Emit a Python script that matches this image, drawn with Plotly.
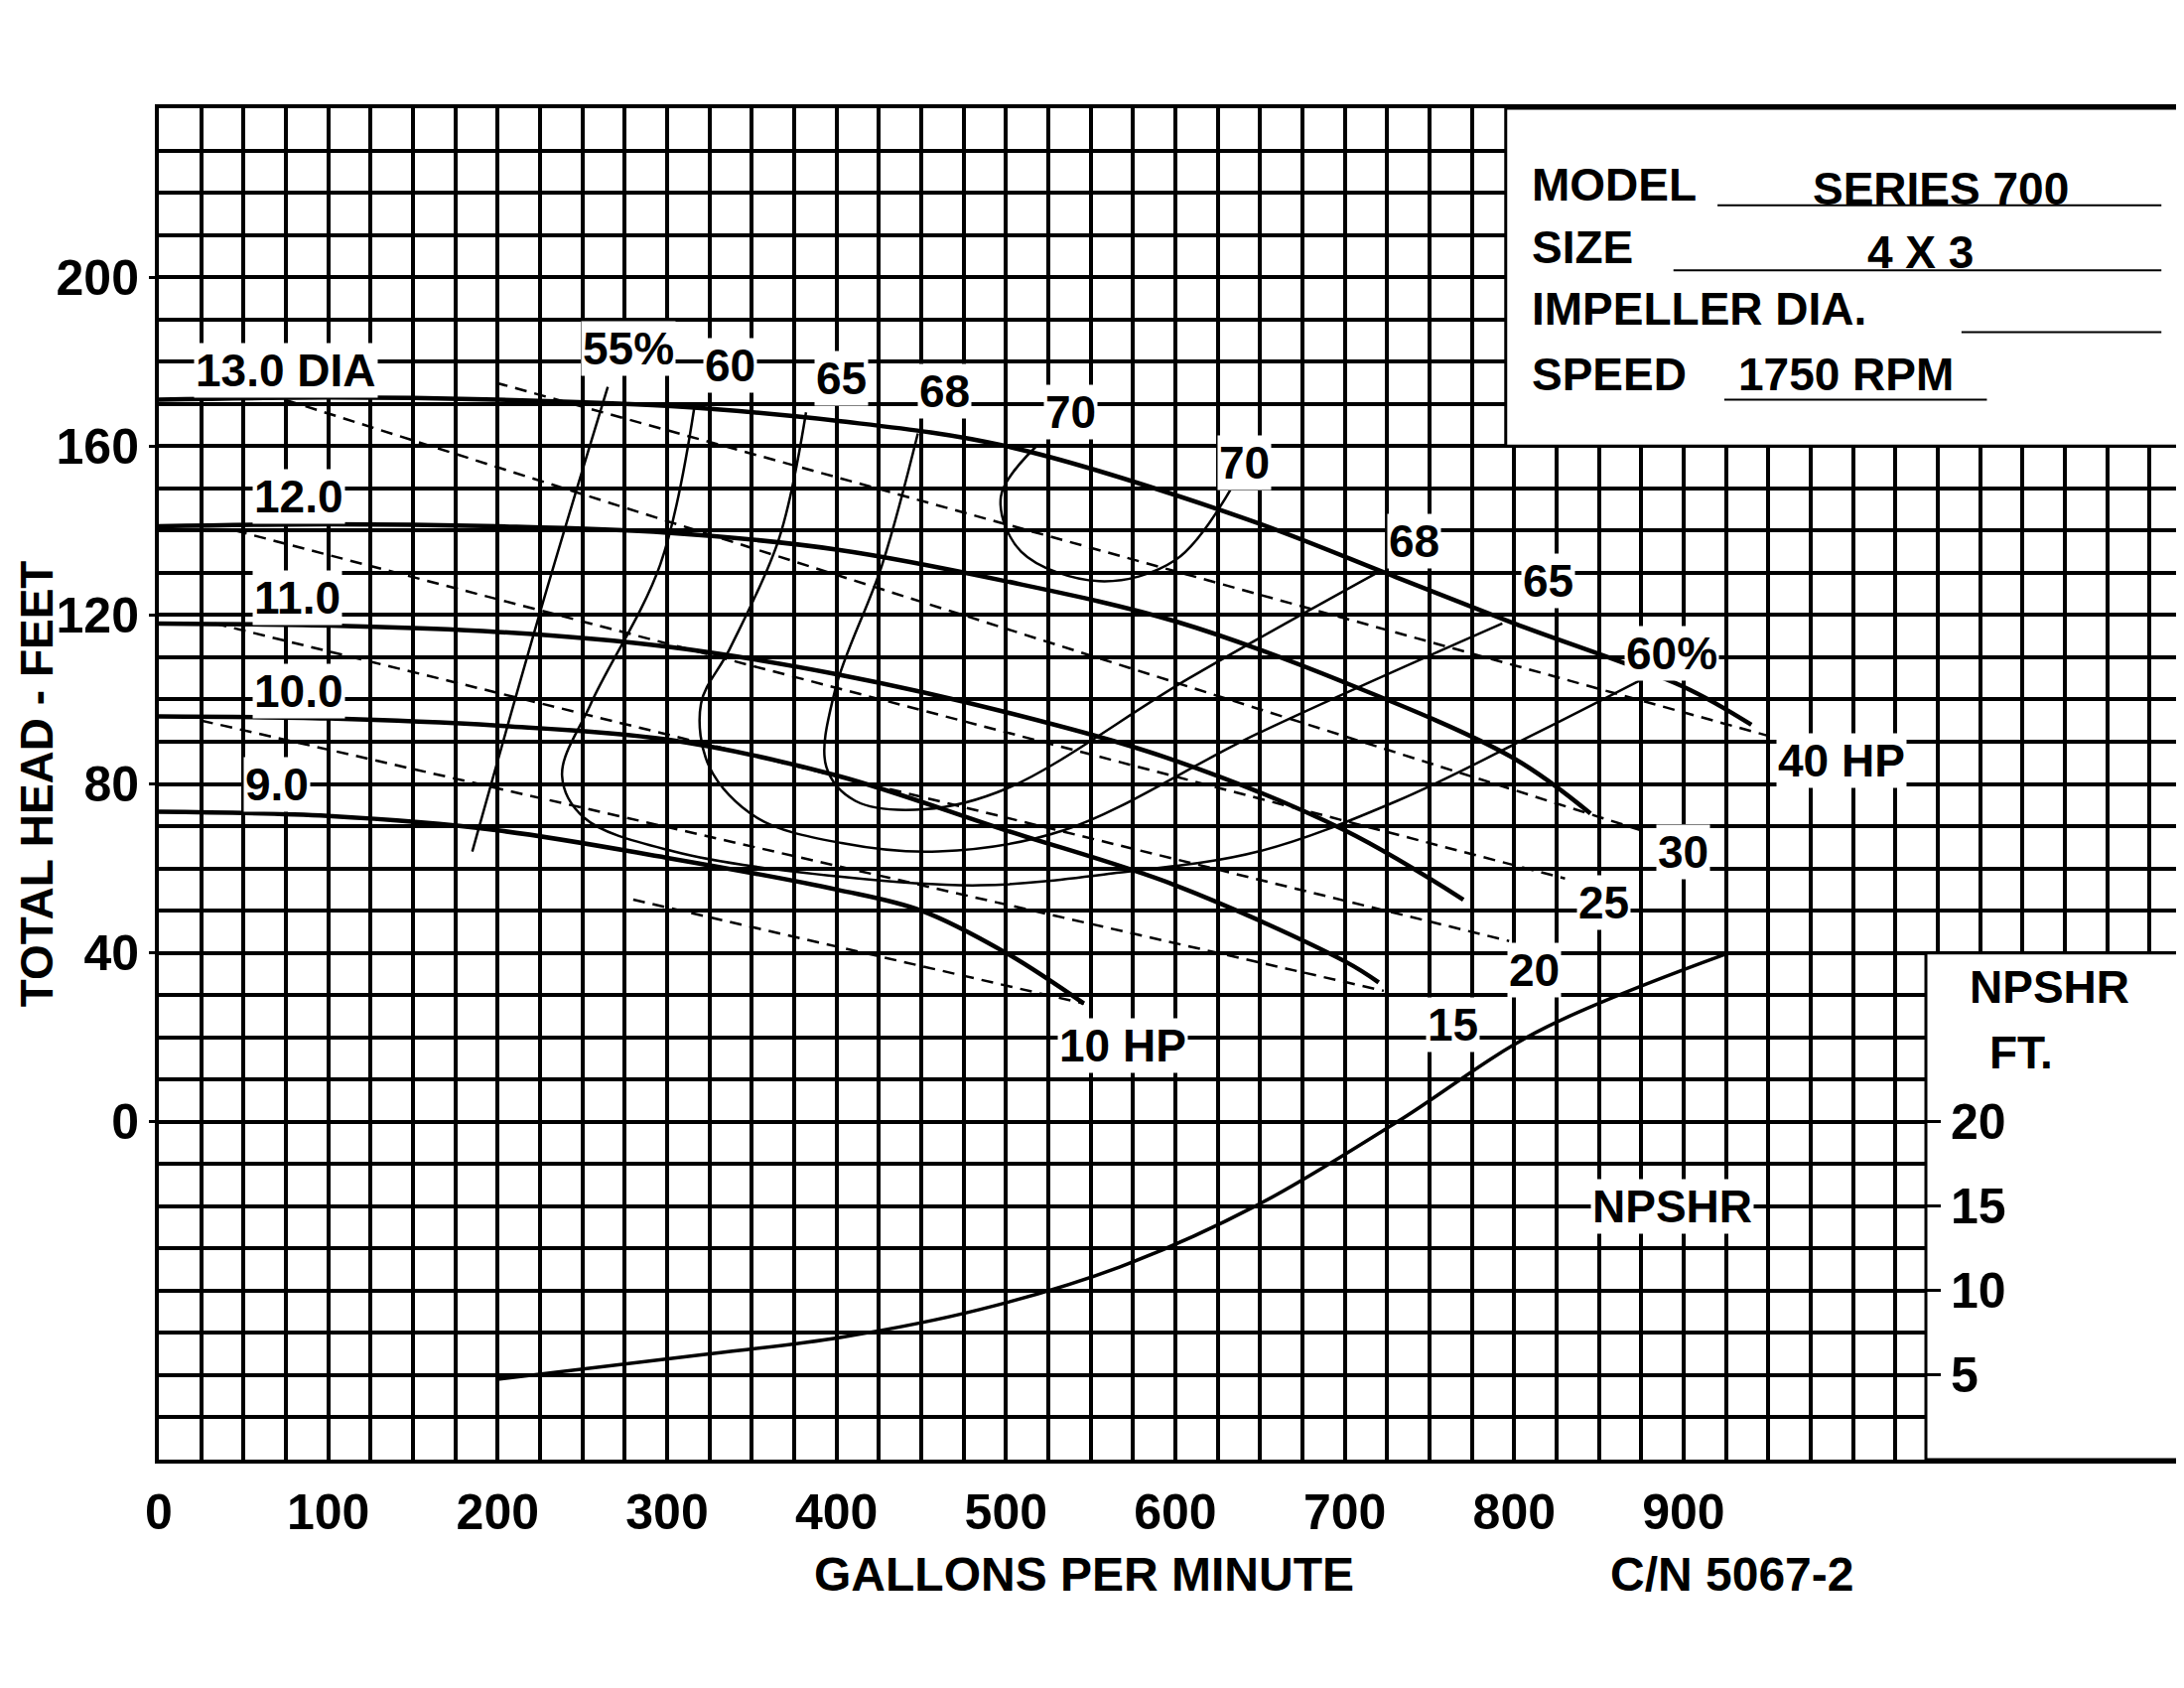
import plotly.graph_objects as go

# ---- data (gpm, head ft) ----
dia_labels = ["13.0 DIA", "12.0", "11.0", "10.0", "9.0"]
dia_gpm = [
    [0, 100, 200, 300, 400, 500, 640, 730, 800, 900, 940],
    [0, 100, 200, 300, 400, 500, 600, 700, 800, 845],
    [0, 100, 200, 300, 400, 500, 600, 700, 770],
    [0, 100, 200, 300, 400, 500, 600, 700, 720],
    [0, 100, 200, 300, 400, 450, 500, 546],
]
dia_head = [
    [171, 171.5, 171, 169.5, 166, 160, 143, 129, 118, 103, 94],
    [141, 141.5, 141, 139.5, 135.5, 128, 118.5, 104, 86, 73],
    [118, 117.5, 116, 112.5, 106, 97, 85.5, 69, 52.6],
    [96, 95.5, 93.8, 90.5, 82, 69, 56, 38, 33],
    [73.4, 72.4, 69, 62.5, 55, 50, 40, 28],
]
dia_label_gpm = [75, 55, 55, 55, 50]
dia_label_head = [178, 148, 124, 102, 80]

hp_labels = ["40 HP", "30", "25", "20", "15", "10 HP"]
hp_gpm = [[199, 949], [53, 875], [45, 830], [33, 797], [25, 723], [280, 546]]
hp_head = [[175, 91.5], [173.7, 69], [140, 57.6], [118, 42.8], [95, 31], [52.6, 28]]
hp_label_gpm = [993, 900, 853, 812, 764, 569]
hp_label_head = [85.5, 64, 52, 36, 23, 18]

eff_gpm = [
    [265, 226, 185],
    [316, 296, 255, 238, 251, 304, 403, 485, 567, 649, 731, 813, 896],
    [382, 366, 337, 320, 325, 353, 403, 460, 534, 649, 793],
    [448, 427, 399, 394, 411, 452, 501, 608, 719],
    [518, 497, 509, 555, 600, 633],
]
eff_head = [
    [174, 122, 64],
    [169, 132, 99, 82, 72, 64, 58, 56, 59, 64, 76, 92, 109],
    [168, 138, 112, 99, 84, 72, 66, 64, 69, 92, 118],
    [163, 132, 102, 84, 76, 74, 79, 105, 130],
    [160, 148, 135, 128, 133, 150],
]
eff_labels = ["55%", "60", "65", "68", "70", "70", "68", "65", "60%"]
eff_label_gpm = [277, 337, 403, 464, 538, 641, 741, 820, 893]
eff_label_head = [183, 179, 176, 173, 168, 156, 137.5, 128, 111]

npshr_gpm = [199, 320, 403, 485, 567, 649, 731, 813, 924]
npshr_ft = [4.75, 6.2, 7.25, 8.9, 11.4, 15.1, 20, 25.3, 29.9]

x_ticks = [0, 100, 200, 300, 400, 500, 600, 700, 800, 900]
y_ticks = [0, 40, 80, 120, 160, 200]
npsh_ticks = [5, 10, 15, 20]

FONT = "Liberation Sans, Arial, sans-serif"
XMAX = 1193
fig = go.Figure()

for gx, gy in zip(dia_gpm, dia_head):
    fig.add_trace(go.Scatter(x=gx, y=gy, mode="lines", line=dict(color="black", width=4.5, shape="spline"), showlegend=False))
for gx, gy in zip(hp_gpm, hp_head):
    fig.add_trace(go.Scatter(x=gx, y=gy, mode="lines", line=dict(color="black", width=2.5, dash="12px,8px"), showlegend=False))
for gx, gy in zip(eff_gpm, eff_head):
    fig.add_trace(go.Scatter(x=gx, y=gy, mode="lines", line=dict(color="black", width=2.5, shape="spline"), showlegend=False))
fig.add_trace(go.Scatter(x=npshr_gpm, y=npshr_ft, yaxis="y2", mode="lines",
                         line=dict(color="black", width=3.5, shape="spline"), showlegend=False))

ann = []
def A(x, y, t, size=46, bg=None, xa="center", **kw):
    d = dict(x=x, y=y, text=t, showarrow=False, xanchor=xa, font=dict(family=FONT, size=size, color="black"))
    if bg:
        d["bgcolor"] = bg
    d.update(kw)
    ann.append(d)

for t, x, y in zip(dia_labels, dia_label_gpm, dia_label_head):
    A(x, y, "<b>%s</b>" % t, bg="white", xa="left" if "DIA" not in t else "center", xref="x", yref="y")
for t, x, y in zip(hp_labels, hp_label_gpm, hp_label_head):
    A(x, y, "<b>%s</b>" % t, bg="white", xref="x", yref="y")
for t, x, y in zip(eff_labels, eff_label_gpm, eff_label_head):
    A(x, y, "<b>%s</b>" % t, bg="white", xref="x", yref="y")

# info box text
A(809, 222, "<b>MODEL</b>", xa="left", xref="x", yref="y")
A(1052, 221, "<b>SERIES 700</b>", xref="x", yref="y")
A(809, 207, "<b>SIZE</b>", xa="left", xref="x", yref="y")
A(1040, 206, "<b>4 X 3</b>", xref="x", yref="y")
A(809, 192.4, "<b>IMPELLER DIA.</b>", xa="left", xref="x", yref="y")
A(809, 177, "<b>SPEED</b>", xa="left", xref="x", yref="y")
A(996, 177, "<b>1750 RPM</b>", xref="x", yref="y")
A(1116, 32, "<b>NPSHR</b>", xref="x", yref="y")
A(1099, 16.5, "<b>FT.</b>", xref="x", yref="y")
A(893, -20, "<b>NPSHR</b>", bg="white", xref="x", yref="y")
A(0.458, -0.085, "<b>GALLONS PER MINUTE</b>", size=48, xref="paper", yref="paper", yanchor="middle")
A(0.778, -0.085, "<b>C/N 5067-2</b>", size=48, xref="paper", yref="paper", yanchor="middle")
A(-0.0605, 0.5, "<b>TOTAL HEAD - FEET</b>", size=46, xref="paper", yref="paper", textangle=-90)

shapes = [
    dict(type="rect", xref="x", yref="y", x0=795, x1=XMAX, y0=160, y1=240, fillcolor="white", line=dict(color="black", width=3), layer="between"),
    dict(type="rect", xref="x", yref="y", x0=1043, x1=XMAX, y0=-80, y1=40, fillcolor="white", line=dict(color="black", width=3), layer="between"),
]
for x0, x1, y in [(920, 1182, 217), (894, 1182, 201.6), (1064, 1182, 187), (924, 1079, 171)]:
    shapes.append(dict(type="line", xref="x", yref="y", x0=x0, x1=x1, y0=y, y1=y, line=dict(color="black", width=2)))

TF = dict(family=FONT, size=50, color="black", weight="bold")
fig.update_layout(
    width=2200, height=1700, paper_bgcolor="white", plot_bgcolor="white",
    margin=dict(l=152, r=8, t=101, b=238),
    annotations=ann, shapes=shapes,
    xaxis=dict(range=[0, XMAX], tickvals=x_ticks, showgrid=True, gridcolor="black", gridwidth=3.5,
               minor=dict(dtick=25, tick0=0, showgrid=True, gridcolor="black", gridwidth=3.5),
               showline=True, linecolor="black", linewidth=4, mirror=True, zeroline=False,
               tickfont=TF, ticks="", ticklabelstandoff=6),
    yaxis=dict(range=[-80, 240], tickvals=y_ticks, showgrid=True, gridcolor="black", gridwidth=3.5,
               minor=dict(dtick=10, tick0=0, showgrid=True, gridcolor="black", gridwidth=3.5),
               showline=True, linecolor="black", linewidth=4, mirror=True, zeroline=False,
               tickfont=TF, ticks="outside", ticklen=6, tickwidth=3, tickcolor="black",
               ticklabelstandoff=0),
    yaxis2=dict(range=[0, 80], overlaying="y", anchor="free", side="right", position=1043 / XMAX,
                tickvals=npsh_ticks, showgrid=False, zeroline=False, showline=False,
                ticks="outside", ticklen=14, tickwidth=3, tickcolor="black", tickfont=TF),
)
fig.write_html("out.html")
